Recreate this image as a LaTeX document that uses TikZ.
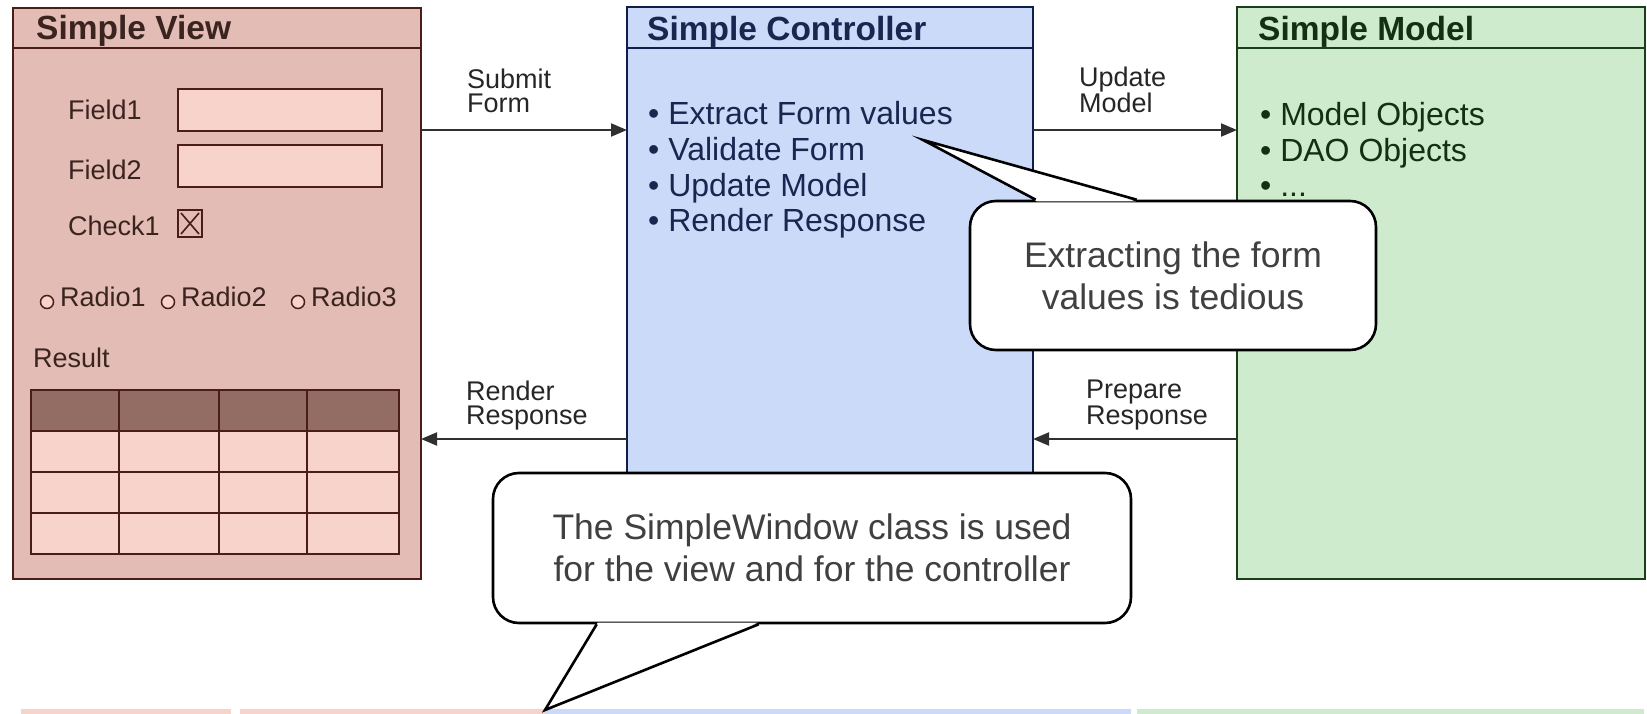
\documentclass[tikz,border=0pt]{standalone}
\usepackage{fontspec}
\setmainfont{Liberation Sans}
\usetikzlibrary{arrows.meta,positioning}

\definecolor{viewfill}{HTML}{E3BDB5}
\definecolor{viewline}{HTML}{4A1E16}
\definecolor{viewcell}{HTML}{F7D3CB}
\definecolor{viewhead}{HTML}{936C63}
\definecolor{viewtext}{HTML}{3B2420}
\definecolor{ctrlfill}{HTML}{CCDAFA}
\definecolor{ctrlline}{HTML}{0F1F4A}
\definecolor{ctrltext}{HTML}{1B2650}
\definecolor{modelfill}{HTML}{CEECCD}
\definecolor{modelline}{HTML}{1A3D1A}
\definecolor{modeltext}{HTML}{123012}
\definecolor{flowline}{HTML}{303030}
\definecolor{notetext}{HTML}{404040}

\newcommand\titlefont{\fontsize{33.5}{36}\selectfont\bfseries}
\newcommand\itemfont{\fontsize{32}{35.7}\selectfont}
\newcommand\smallfont{\fontsize{27}{24}\selectfont}
\newcommand\notefont{\fontsize{35.5}{42}\selectfont}

\tikzstyle{panel} = [rectangle, anchor=north west, line width=2pt, inner sep=0pt, outer sep=0pt]
\tikzstyle{paneltitle} = [anchor=base west, inner sep=0pt, font=\titlefont]
\tikzstyle{item} = [anchor=base west, inner sep=0pt, align=left, font=\itemfont]
\tikzstyle{caption} = [anchor=base west, inner sep=0pt, font=\smallfont, text=viewtext]
\tikzstyle{flowlabel} = [anchor=base west, inner sep=0pt, align=left, font=\smallfont, text=black!85]
\tikzstyle{flow} = [line width=2pt, draw=flowline, -{Triangle[length=16pt,width=13pt]}]
\tikzstyle{field} = [draw=viewline, fill=viewcell, line width=2pt]
\tikzstyle{note} = [rectangle, rounded corners=26pt, draw=black, fill=white, line width=2.6pt,
    align=center, font=\notefont, text=notetext, inner sep=0pt]
\tikzstyle{noteline} = [draw=black, line width=2.6pt, line join=miter]

\begin{document}
\begin{tikzpicture}[x=1pt, y=-1pt]
    \useasboundingbox (0,0) rectangle (1647,714);

    % strips along the bottom
    \fill[viewcell] (21,709) rectangle (231,716);
    \fill[viewcell] (240,709) rectangle (545,716);
    \fill[ctrlfill] (545,709) rectangle (1131,716);
    \fill[modelfill] (1137,709) rectangle (1644,716);

    % the three panels
    \node[panel, fill=viewfill, draw=viewline, minimum width=408, minimum height=571] (view) at (13,8) {};
    \node[panel, fill=ctrlfill, draw=ctrlline, minimum width=406, minimum height=572] (ctrl) at (627,7) {};
    \node[panel, fill=modelfill, draw=modelline, minimum width=408, minimum height=572] (model) at (1237,7) {};

    \draw[viewline, line width=2pt] ([yshift=-40pt]view.north west) -- ([yshift=-40pt]view.north east);
    \draw[ctrlline, line width=2pt] ([yshift=-41pt]ctrl.north west) -- ([yshift=-41pt]ctrl.north east);
    \draw[modelline, line width=2pt] ([yshift=-41pt]model.north west) -- ([yshift=-41pt]model.north east);

    \node[paneltitle, text=viewtext] (viewTitle) at (36,40) {Simple View};
    \node[paneltitle, text=ctrltext] (ctrlTitle) at (647,41) {Simple Controller};
    \node[paneltitle, text=modeltext] (modelTitle) at (1258,41) {Simple Model};

    % form inside the view
    \node[caption] (field1) at (68,120) {Field1};
    \node[caption] (field2) at (68,180) {Field2};
    \node[caption] (check1) at (68,236) {Check1};
    \draw[field] (178,89) rectangle (382,131);
    \draw[field] (178,145) rectangle (382,187);
    \draw[viewline, line width=1.6pt] (178,210) rectangle (202,237);
    \draw[viewline, line width=1.6pt] (181,213) -- (199,234) (199,213) -- (181,234);

    \foreach \cx/\tx/\n in {47/60/1, 168/181/2, 298/311/3} {
        \draw[viewline, fill=viewcell, line width=1.5pt] (\cx,302) circle (6.5pt);
        \node[caption] (radio\n) at (\tx,306) {Radio\n};
    }
    \node[caption] (result) at (33,367) {Result};

    \foreach \ya/\yb/\c in {390/431/viewhead, 431/472/viewcell, 472/513/viewcell, 513/554/viewcell}
        \foreach \xa/\xb in {31/119, 119/219, 219/307, 307/399}
            \draw[field, fill=\c] (\xa,\ya) rectangle (\xb,\yb);

    % items of controller and model (base = last line)
    \node[item, text=ctrltext] (ctrlItems) at (648,232)
        {• Extract Form values\\• Validate Form\\• Update Model\\• Render Response};
    \node[item, text=modeltext] (modelItems) at (1260,197)
        {• Model Objects\\• DAO Objects\\• ...};

    % flows
    \coordinate (sendRow) at (0,130);
    \coordinate (backRow) at (0,439);
    \draw[flow] (view.east |- sendRow) -- (ctrl.west |- sendRow);
    \draw[flow] (ctrl.east |- sendRow) -- (model.west |- sendRow);
    \draw[flow] (ctrl.west |- backRow) -- (view.east |- backRow);
    \draw[flow] (model.west |- backRow) -- (ctrl.east |- backRow);

    \node[flowlabel] (submitLbl) at (467,113) {Submit\\Form};
    \node[flowlabel] (updateLbl) at (1079,113) {Update\\Model};
    \node[flowlabel] (renderLbl) at (466,424) {Render\\Response};
    \node[flowlabel] (prepareLbl) at (1086,424) {Prepare\\Response};

    % callouts
    \node[note, minimum width=406, minimum height=149] (tedious) at (1173,275.5)
        {Extracting the form\\values is tedious};
    \coordinate (tediousTip) at (923,140);
    \fill[white] ([xshift=68pt,yshift=-1.6pt]tedious.north west) -- (tediousTip)
        -- ([xshift=167pt,yshift=-1.6pt]tedious.north west) -- cycle;
    \draw[noteline] ([xshift=67pt]tedious.north west) -- (tediousTip) -- ([xshift=168pt]tedious.north west);

    \node[note, minimum width=638, minimum height=150] (window) at (812,548)
        {The SimpleWindow class is used\\for the view and for the controller};
    \coordinate (windowTip) at (545,710);
    \fill[white] ([xshift=106pt,yshift=1.6pt]window.south west) -- (windowTip)
        -- ([xshift=266pt,yshift=1.6pt]window.south west) -- cycle;
    \draw[noteline] ([xshift=105pt]window.south west) -- (windowTip) -- ([xshift=267pt]window.south west);
\end{tikzpicture}
\end{document}
